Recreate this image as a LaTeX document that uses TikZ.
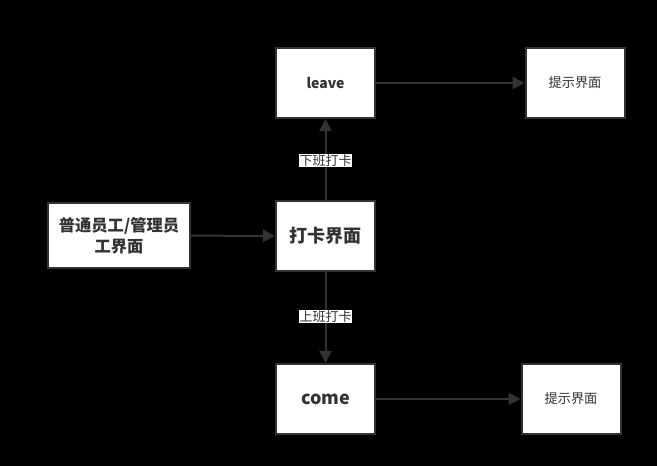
\documentclass[tikz,border=0pt]{standalone}
\usepackage{fontspec}
\usepackage{tikz}
\usetikzlibrary{arrows.meta}
\newfontfamily\cjk{Noto Sans CJK SC}
\definecolor{edge}{HTML}{333333}

\begin{document}
\begin{tikzpicture}[x=0.75pt,y=-0.75pt,
  box/.style={draw=edge,fill=white,line width=1.5pt,minimum width=74.25pt,minimum height=52.5pt,align=center,inner sep=0pt,font=\cjk,text=edge},
  flow/.style={draw=edge,line width=1.5pt,-{Triangle[length=9pt,width=9pt]}},
  lbl/.style={fill=white,inner sep=0.5pt,font=\cjk\fontsize{9.75}{11}\selectfont,text=edge}]
  \fill[black] (0,0) rectangle (657,466);
  \useasboundingbox (0,0) rectangle (657,466);
  \node[box,minimum width=106.5pt,minimum height=48.75pt,font=\cjk\bfseries\fontsize{12.2}{16}\selectfont] (staff) at (119,235.5) {普通员工/管理员\\工界面};
  \node[box,font=\cjk\bfseries\fontsize{13.5}{15}\selectfont] (clock) at (325.5,236) {打卡界面};
  \node[box,font=\cjk\bfseries\fontsize{10.5}{12}\selectfont] (leave) at (325.5,83) {leave};
  \node[box,font=\cjk\bfseries\fontsize{13.5}{15}\selectfont] (come) at (325.5,399) {come};
  \node[box,font=\cjk\fontsize{9.9}{11}\selectfont] (tipa) at (575,83) {提示界面};
  \node[box,font=\cjk\fontsize{9.9}{11}\selectfont] (tipb) at (571,399) {提示界面};
  \draw[flow] (staff) -- (clock);
  \draw[flow] (clock) -- (leave) node[lbl,pos=0.49] {下班打卡};
  \draw[flow] (clock) -- (come) node[lbl,pos=0.49] {上班打卡};
  \draw[flow] (leave) -- (tipa);
  \draw[flow] (come) -- (tipb);
\end{tikzpicture}
\end{document}
